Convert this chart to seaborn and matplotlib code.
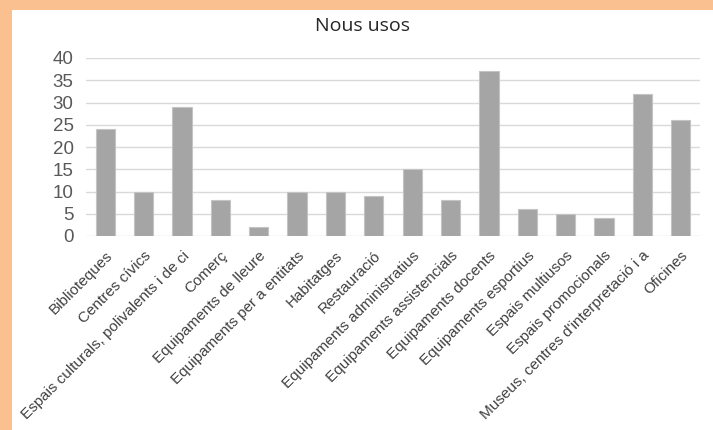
import pandas as pd
import seaborn as sns
import matplotlib.pyplot as plt
from matplotlib.patches import Rectangle

categories = [
    "Biblioteques", "Centres cívics", "Espais culturals, polivalents i de ci",
    "Comerç", "Equipaments de lleure", "Equipaments per a entitats",
    "Habitatges", "Restauració", "Equipaments administratius",
    "Equipaments assistencials", "Equipaments docents", "Equipaments esportius",
    "Espais multiusos", "Espais promocionals",
    "Museus, centres d'interpretació i a", "Oficines",
]
values = [24, 10, 29, 8, 2, 10, 10, 9, 15, 8, 37, 6, 5, 4, 32, 26]
y_ticks = [0, 5, 10, 15, 20, 25, 30, 35, 40]

df = pd.DataFrame({"categoria": categories, "valor": values})

sns.set_style("white")
plt.rcParams["font.family"] = ["Liberation Sans", "DejaVu Sans"]

fig = plt.figure(figsize=(7.13, 4.30), dpi=100)
fig.patch.set_facecolor("#FBC08F")
# panell blanc
fig.patches.append(Rectangle((12 / 713, 0), 1, 420 / 430, transform=fig.transFigure,
                             facecolor="white", edgecolor="none", zorder=-5))

ax = fig.add_axes([86 / 713, 194 / 430, 614 / 713, 178 / 430])
ax.set_zorder(2)
ax.set_facecolor("none")
sns.barplot(data=df, x="categoria", y="valor", color="#A5A5A5", width=0.5,
            saturation=1, edgecolor="#C4C4C4", linewidth=0.8, ax=ax, zorder=3)

ax.set_ylim(0, 40)
ax.set_xlim(-0.5, len(categories) - 0.5)
ax.set_yticks(y_ticks)
ax.yaxis.grid(True, color="#D9D9D9", linewidth=1)
ax.set_axisbelow(True)
for s in ax.spines.values():
    s.set_visible(False)
ax.tick_params(axis="y", length=0, labelsize=13.5, labelcolor="#595959", pad=9)
ax.tick_params(axis="x", length=0, labelsize=11, labelcolor="#404040", pad=9)
plt.setp(ax.get_xticklabels(), rotation=45, ha="right", rotation_mode="anchor")
ax.set_xlabel("")
ax.set_ylabel("")

fig.text(0.5 + 6 / 713, 1 - 26 / 430, "Nous usos", ha="center", va="center",
         fontsize=14, color="#262626", family=["Open Sans", "DejaVu Sans"])

plt.savefig("out.png", dpi=100, facecolor=fig.get_facecolor())
